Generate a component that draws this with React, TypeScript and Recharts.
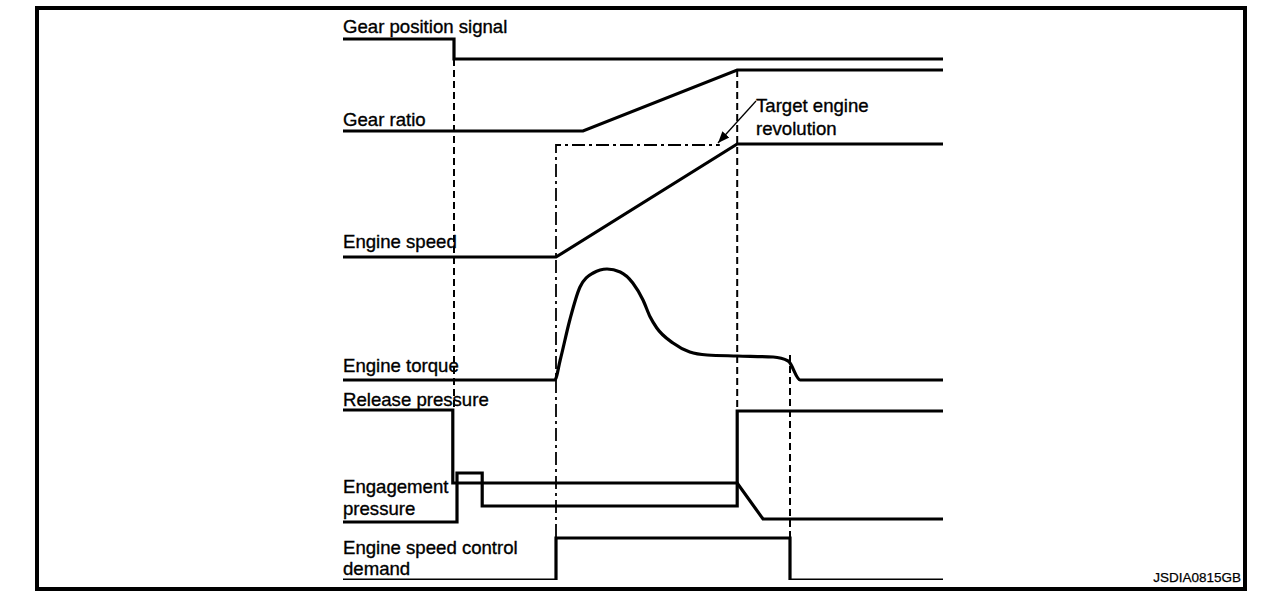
import React from 'react';
import { LineChart, Line, XAxis, YAxis, ReferenceLine } from 'recharts';

// time axis: 0..100 (arbitrary units), level axis: 0..57 (arbitrary units, rows stacked)
type Pt = { t: number; v: number };

const gearPosition: Pt[] = [
  { t: 0, v: 54.1 }, { t: 18.5, v: 54.1 }, { t: 18.5, v: 52.1 }, { t: 100, v: 52.1 },
];

const gearRatio: Pt[] = [
  { t: 0, v: 44.9 }, { t: 40, v: 44.9 }, { t: 65.7, v: 51 }, { t: 100, v: 51 },
];

const targetRevolution: Pt[] = [
  { t: 35.5, v: 4.3 }, { t: 35.5, v: 43.5 }, { t: 62.8, v: 43.5 },
];

const engineSpeed: Pt[] = [
  { t: 0, v: 32.3 }, { t: 35.5, v: 32.3 }, { t: 65.7, v: 43.6 }, { t: 100, v: 43.6 },
];

const engineTorque: Pt[] = [
  { t: 0, v: 20 }, { t: 35.3, v: 20 }, { t: 36.2, v: 22 }, { t: 37.8, v: 26 },
  { t: 39.5, v: 29.3 }, { t: 41.7, v: 30.7 }, { t: 44, v: 31.1 }, { t: 46.2, v: 30.8 },
  { t: 48.3, v: 29.7 }, { t: 50, v: 28 }, { t: 51.2, v: 26.3 }, { t: 52.3, v: 25.2 },
  { t: 55, v: 23.7 }, { t: 57.8, v: 22.8 }, { t: 60.7, v: 22.5 }, { t: 65.7, v: 22.4 },
  { t: 71.7, v: 22.3 }, { t: 74.2, v: 21.9 }, { t: 76.2, v: 20 }, { t: 100, v: 20 },
];

const releasePressure: Pt[] = [
  { t: 0, v: 17 }, { t: 18.3, v: 17 }, { t: 18.3, v: 9.7 }, { t: 65.7, v: 9.7 },
  { t: 70, v: 6.1 }, { t: 100, v: 6.1 },
];

const engagementPressure: Pt[] = [
  { t: 0, v: 5.8 }, { t: 19, v: 5.8 }, { t: 19, v: 10.7 }, { t: 23.2, v: 10.7 },
  { t: 23.2, v: 7.4 }, { t: 65.7, v: 7.4 }, { t: 65.7, v: 16.9 }, { t: 100, v: 16.9 },
];

const speedControlDemand: Pt[] = [
  { t: 0, v: 0 }, { t: 35.5, v: 0 }, { t: 35.5, v: 4.2 }, { t: 74.5, v: 4.2 },
  { t: 74.5, v: 0 }, { t: 100, v: 0 },
];

// vertical timing markers: [time, from level, to level]
const markers: [number, number, number][] = [
  [18.5, 52.1, 17],
  [65.7, 51, 17],
  [74.5, 22.5, 4.2],
];

const labels: { text: string; x: number; y: number }[] = [
  { text: 'Gear position signal', x: 343, y: 33 },
  { text: 'Gear ratio', x: 343, y: 126 },
  { text: 'Target engine', x: 756, y: 112 },
  { text: 'revolution', x: 756, y: 135 },
  { text: 'Engine speed', x: 343, y: 248 },
  { text: 'Engine torque', x: 343, y: 372 },
  { text: 'Release pressure', x: 343, y: 406 },
  { text: 'Engagement', x: 343, y: 493 },
  { text: 'pressure', x: 343, y: 515 },
  { text: 'Engine speed control', x: 343, y: 554 },
  { text: 'demand', x: 343, y: 575 },
];

const FONT = '"Liberation Sans", Arial, Helvetica, sans-serif';

const series = [
  gearPosition, gearRatio, engineSpeed, engineTorque,
  releasePressure, engagementPressure, speedControlDemand,
];

export default function App() {
  return (
    <div style={{ position: 'absolute', left: 0, top: 0, width: 1280, height: 594, background: '#fff' }}>
      <div
        style={{
          position: 'absolute', left: 35, top: 6, width: 1212, height: 585,
          border: '4px solid #000', boxSizing: 'border-box',
        }}
      />
      <LineChart
        width={1280}
        height={594}
        margin={{ top: 10, right: 337, bottom: 14, left: 343 }}
        style={{ position: 'absolute', left: 0, top: 0 }}
      >
        <XAxis type="number" dataKey="t" domain={[0, 100]} hide allowDataOverflow />
        <YAxis type="number" dataKey="v" domain={[0, 57]} hide allowDataOverflow />

        {markers.map(([t, y1, y2], i) => (
          <ReferenceLine
            key={'m' + i}
            segment={[{ x: t, y: y1 }, { x: t, y: y2 }]}
            stroke="#000"
            strokeWidth={2}
            strokeDasharray="7 4"
            ifOverflow="visible"
          />
        ))}

        <Line
          data={targetRevolution}
          dataKey="v"
          type="linear"
          stroke="#000"
          strokeWidth={1.8}
          strokeDasharray="13 4 3 4"
          dot={false}
          activeDot={false}
          isAnimationActive={false}
        />

        {series.map((d, i) => (
          <Line
            key={'s' + i}
            data={d}
            dataKey="v"
            type={d === engineTorque ? 'monotone' : 'linear'}
            stroke="#000"
            strokeWidth={3.2}
            dot={false}
            activeDot={false}
            isAnimationActive={false}
          />
        ))}
      </LineChart>

      <svg
        width={1280}
        height={594}
        style={{ position: 'absolute', left: 0, top: 0, pointerEvents: 'none' }}
      >
        <defs>
          <marker id="arrow" viewBox="0 0 10 10" refX="10" refY="5" markerWidth="9" markerHeight="9" orient="auto">
            <path d="M0,1 L10,5 L0,9 z" fill="#000" />
          </marker>
        </defs>
        <line x1={756} y1={101} x2={718} y2={143} stroke="#000" strokeWidth={1.3} markerEnd="url(#arrow)" />
        {labels.map((l) => (
          <text
            key={l.text}
            x={l.x}
            y={l.y}
            fontFamily={FONT}
            fontSize={18.6}
            fill="#000"
            stroke="#000"
            strokeWidth={0.35}
          >
            {l.text}
          </text>
        ))}
        <text x={1241} y={582} textAnchor="end" fontFamily={FONT} fontSize={13.5} fill="#000" stroke="#000" strokeWidth={0.25}>
          JSDIA0815GB
        </text>
      </svg>
    </div>
  );
}
